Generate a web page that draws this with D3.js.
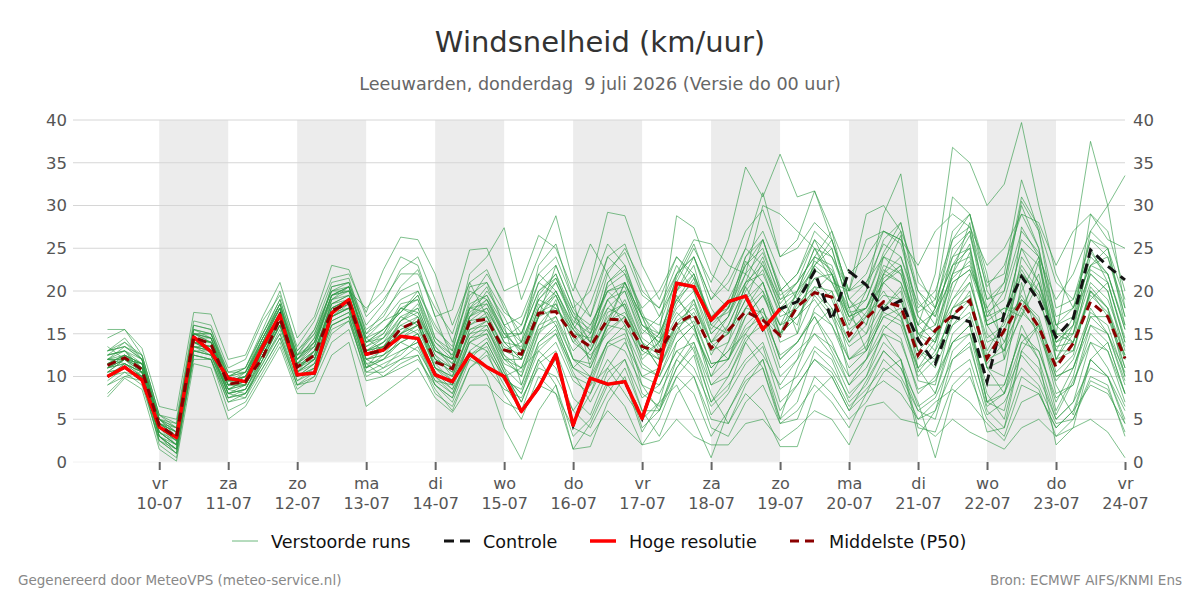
<!DOCTYPE html>
<html><head><meta charset="utf-8">
<script src="https://cdn.jsdelivr.net/npm/d3@7"></script>
<style>
html,body{margin:0;padding:0;background:#fff;}
svg{display:block;font-family:"DejaVu Sans",sans-serif;}
text{white-space:pre;}
</style></head>
<body><svg id="c" width="1200" height="600"></svg>
<script>
// ---- data ----
const title = "Windsnelheid (km/uur)";
const subtitle = "Leeuwarden, donderdag  9 juli 2026 (Versie do 00 uur)";
const firstTime = "2026-07-09T06:00:00Z"; // 6-hourly steps
const dayTicks = ["2026-07-10","2026-07-11","2026-07-12","2026-07-13","2026-07-14","2026-07-15","2026-07-16","2026-07-17","2026-07-18","2026-07-19","2026-07-20","2026-07-21","2026-07-22","2026-07-23","2026-07-24"];
const dayNames = ["vr","za","zo","ma","di","wo","do","vr","za","zo","ma","di","wo","do","vr"];
const dayDates = ["10-07","11-07","12-07","13-07","14-07","15-07","16-07","17-07","18-07","19-07","20-07","21-07","22-07","23-07","24-07"];
const yTicks = [0,5,10,15,20,25,30,35,40];

const hres = [10.0,11.1,9.6,4.1,2.85,14.6,12.9,9.8,9.4,13.5,17.2,10.2,10.4,17.4,19.0,
  12.6,13.1,14.7,14.45,10.2, 9.4,12.6,11.1,10.0, 5.9,8.7,12.6,4.3, 9.8,9.1,9.4,5.1,
  11.0,20.9,20.5,16.6, 18.75,19.4,15.5,17.9];
const controle = [10.0,11.1,9.6,4.1,2.85,14.6,12.9,9.8,9.4,13.5,17.2,10.2,10.4,17.4,19.0,
  12.6,13.1,14.7,14.45,10.2, 9.4,12.6,11.1,10.0, 5.9,8.7,12.6,4.3, 9.8,9.1,9.4,5.1,
  11.0,20.9,20.5,16.6, 18.75,19.4,15.5,17.9, 18.75,22.3,16.6,22.3, 20.7,17.8,18.9,14.3,
  11.5,17.0,16.4,9.4, 17.4,21.7,18.9,14.6, 16.8,24.8,22.9,21.3];
const p50 = [11.3,12.2,10.8,4.3,2.9,14.6,13.8,9.1,9.4,12.2,16.8,11.1,12.5,17.7,18.6,
  12.6,13.1,15.6,16.5,11.7, 10.9,16.4,16.7,13.1, 12.6,17.4,17.6,14.8, 13.5,16.7,16.6,13.5,
  12.9,16.2,17.3,13.3, 15.4,17.6,16.6,14.8, 18.2,19.8,19.3,14.8, 16.8,18.75,18.2,12.5,
  15.4,17.2,18.9,12.1, 15.4,18.75,15.8,11.1, 13.9,18.75,17.0,12.1];

const m01=[12.0,13.5,12.0,3.5,2.0,15.0,14.0,8.5,9.0,14.0,18.5,11.5,12.0,19.0,20.5, 13.0,14.0,17.0,16.0,12.0, 10.5,18.0,17.5,13.0, 14.0,19.0,18.0,15.0, 12.0,17.5,18.5,14.0, 11.0,15.0,19.0,12.5, 16.0,20.5,17.0,14.5, 19.0,21.5,22.0,15.0, 17.5,21.0,19.0,12.0, 14.5,19.0,22.0,13.0, 16.5,19.0,17.0,10.5, 12.5,20.5,18.0,11.0];
const m02=[10.5,11.0,10.0,4.5,3.5,14.0,13.5,9.5,10.0,12.5,16.5,10.5,13.0,17.5,18.5, 12.0,12.5,15.0,17.0,11.0, 9.5,15.5,16.0,12.0, 10.0,16.0,17.0,13.0, 15.0,19.0,16.0,12.5, 14.0,17.5,15.5,11.0, 13.0,17.0,19.5,16.0, 18.0,20.0,17.5,13.5, 15.0,18.5,17.0,10.5, 13.0,17.0,19.0,11.5, 14.0,18.0,15.0,9.5, 12.0,17.5,16.0,10.0];
const m03=[14.5,15.5,12.5,5.5,4.5,16.0,15.5,10.5,11.0,15.5,20.0,13.0,15.5,21.0,21.5, 15.0,17.5,20.0,21.0,14.5, 13.0,20.5,21.0,17.5, 16.0,22.0,24.0,19.0, 17.0,22.5,24.5,19.5, 18.0,22.0,24.0,19.0, 22.0,27.0,29.5,24.0, 25.0,28.0,26.0,20.0, 22.0,27.0,25.5,18.0, 20.0,26.0,27.5,20.5, 23.0,29.0,25.0,16.0, 18.0,26.0,24.0,17.0];
const m04=[9.0,10.5,9.0,2.5,1.0,13.0,12.5,7.5,8.0,11.5,15.5,9.5,10.5,16.0,17.0, 10.0,11.0,13.0,14.0,9.0, 7.5,13.0,14.5,10.5, 7.0,12.0,14.0,9.5, 8.0,13.5,14.5,8.0, 6.5,11.0,13.5,7.0, 9.0,12.0,14.0,8.5, 10.0,13.5,12.0,7.0, 9.0,13.0,11.0,6.0, 7.5,12.0,13.5,6.5, 8.0,12.5,10.0,5.0, 7.0,11.0,10.0,4.5];
const m05=[13.5,12.0,11.5,4.0,2.5,14.5,14.5,9.0,9.5,13.5,17.5,12.0,14.5,19.5,20.0, 14.5,13.0,16.5,18.5,13.5, 11.0,17.0,19.0,15.5, 12.5,18.0,21.0,17.0, 14.0,21.0,23.0,17.5, 13.5,18.5,21.5,15.0, 17.0,22.0,24.5,19.5, 21.0,24.0,23.0,17.0, 19.0,24.5,28.0,20.0, 17.0,24.0,27.0,19.0, 21.0,31.0,27.5,21.0, 19.0,24.5,22.0,15.5];
const m06=[8.0,10.0,10.5,3.0,1.5,12.0,12.0,7.0,8.0,11.0,14.5,9.0,9.5,14.0,15.5, 9.5,10.0,11.5,12.5,8.0, 6.5,11.0,12.5,9.0, 6.0,11.5,13.0,7.5, 5.5,10.5,12.0,6.0, 6.0,10.0,12.5,5.5, 8.0,11.5,13.5,7.0, 9.0,12.0,10.5,6.5, 8.5,11.0,9.5,5.0, 6.0,10.5,12.0,5.5, 7.0,11.0,9.0,4.5, 5.0,9.5,8.5,3.5];
const m07=[11.0,12.5,11.5,5.0,3.0,15.5,14.5,9.5,10.5,14.5,18.0,12.5,15.0,20.0,21.0, 16.0,18.5,22.5,24.0,19.0, 14.0,19.5,21.0,16.0, 9.0,15.0,19.0,12.0, 10.0,16.5,21.0,17.0, 12.0,20.0,23.0,16.0, 18.0,24.0,27.0,22.0, 19.0,23.0,25.0,18.0, 13.0,22.0,26.5,17.0, 15.0,22.0,28.0,18.0, 14.0,20.0,24.0,14.0, 16.0,29.0,27.0,20.0];
const m08=[12.5,13.0,10.5,3.0,1.5,13.5,13.0,8.0,7.5,12.0,16.0,10.0,11.0,16.5,17.5, 11.5,12.0,14.0,13.0,9.5, 9.0,14.5,15.0,11.0, 6.0,9.0,12.0,4.5, 8.0,12.0,9.5,3.5, 7.0,14.0,16.0,9.0, 11.0,15.0,18.0,12.0, 14.0,17.0,13.0,9.0, 12.0,16.0,14.5,8.0, 10.0,14.0,16.0,7.0, 9.0,15.0,12.0,5.5, 9.5,14.0,11.0,6.5];
const m09=[13.0,14.0,12.5,5.5,5.0,16.5,16.0,11.0,12.0,16.5,19.5,13.5,16.5,21.5,22.0, 17.5,22.5,26.3,26.0,22.0, 16.0,21.0,17.0,12.0, 11.0,16.0,18.5,14.0, 16.0,20.0,18.0,13.0, 15.0,19.0,17.0,11.5, 12.0,18.0,21.0,15.0, 17.0,20.5,18.0,14.0, 16.0,21.5,23.0,14.5, 18.0,23.0,24.0,16.0, 13.0,17.0,23.5,12.0, 15.0,25.0,21.0,14.0];
const m10=[10.0,11.5,10.0,2.0,0.5,12.5,12.0,6.0,7.0,10.5,14.0,8.5,10.0,15.0,16.5, 10.5,11.5,12.5,14.5,10.0, 8.0,13.0,10.0,4.0, 0.3,6.0,9.0,3.0, 5.0,9.5,12.0,7.5, 9.0,13.0,11.0,6.5, 8.5,14.0,17.0,11.0, 13.0,15.0,12.5,8.0, 10.0,15.5,17.5,9.5, 9.0,17.0,20.0,11.0, 8.0,14.0,13.0,7.0, 11.0,17.0,15.0,9.0];
const m11=[11.5,12.0,11.5,4.5,4.0,15.0,15.0,10.0,11.0,15.0,18.5,12.0,14.0,20.5,21.0, 15.0,16.5,19.0,20.0,15.5, 13.5,22.0,24.0,27.4, 19.0,24.0,28.8,21.0, 17.0,24.0,22.0,18.0, 20.0,24.0,21.5,17.0, 19.0,23.0,26.0,20.0, 22.0,26.0,24.0,19.0, 21.0,25.5,24.0,17.5, 19.0,24.0,25.0,17.0, 18.0,18.0,22.0,13.0, 17.0,22.0,20.0,13.0];
const m12=[12.0,12.5,11.0,4.0,3.0,14.0,13.5,9.0,9.0,13.0,17.5,11.0,12.5,18.5,19.5, 13.5,15.0,18.0,19.0,13.0, 11.5,17.0,18.0,14.0, 12.0,17.0,20.0,16.0, 13.0,18.0,20.0,15.0, 17.0,21.0,25.0,21.0, 26.0,34.5,31.0,36.0, 31.0,31.7,27.0,22.0, 24.0,27.0,26.0,20.0, 18.0,23.0,26.5,19.0, 20.0,27.0,24.5,17.0, 18.0,23.0,22.0,15.5];
const m13=[9.5,11.0,10.0,3.0,1.0,13.5,12.5,8.0,8.5,12.0,15.0,9.5,11.0,17.0,18.0, 12.0,11.0,12.0,12.5,8.5, 6.0,11.0,13.0,8.0, 5.0,10.0,8.0,1.5, 4.5,9.0,6.5,2.0, 5.0,10.0,8.0,3.0, 6.0,9.5,11.0,4.5, 5.0,10.0,8.0,5.0, 7.0,10.5,12.0,4.0, 3.5,9.0,11.0,3.5, 4.0,10.0,8.5,3.0, 5.0,10.0,9.0,3.0];
const m14=[11.0,12.0,11.0,4.5,3.5,14.5,14.0,9.5,9.5,13.5,17.0,11.5,14.0,19.0,19.5, 12.5,13.5,15.5,16.5,12.0, 11.0,16.0,17.5,14.5, 15.0,21.0,23.0,18.0, 20.0,25.5,23.0,17.0, 16.0,21.5,25.5,20.0, 18.0,22.0,20.0,16.0, 20.0,23.5,22.0,16.0, 20.0,29.0,33.7,21.0, 19.0,31.0,29.0,21.0, 22.0,33.0,27.0,18.0, 19.0,26.0,25.0,17.0];
const m15=[12.0,11.5,10.5,4.0,2.0,14.0,13.5,9.0,10.0,14.0,18.0,11.0,13.0,18.0,19.0, 13.0,14.5,16.5,18.0,13.0, 12.0,17.5,19.0,15.0, 13.0,18.5,16.0,11.0, 13.0,17.0,18.5,13.0, 12.0,16.5,18.0,14.0, 15.0,19.0,21.0,16.0, 17.0,20.0,22.0,18.0, 19.0,24.0,22.0,16.0, 22.0,36.8,35.0,30.0, 32.5,39.7,30.0,22.0, 18.0,23.0,24.0,18.0];
const m16=[10.5,12.0,10.5,3.5,2.5,13.5,13.0,8.5,9.0,13.0,17.0,10.5,12.0,17.0,18.0, 12.5,13.5,15.0,16.0,11.0, 10.0,15.5,16.5,12.5, 11.0,17.0,19.5,14.5, 12.0,16.0,19.0,14.0, 11.0,15.5,17.5,13.0, 14.0,18.0,20.0,14.0, 15.0,19.5,17.0,12.0, 14.0,18.0,20.5,13.0, 12.0,18.0,21.0,14.0, 15.0,22.0,20.0,15.0, 25.0,37.5,30.0,18.0];
const m17=[13.0,14.5,12.0,5.0,4.0,15.5,15.0,10.0,10.5,14.0,18.0,12.5,15.5,20.0,20.5, 14.0,15.5,17.5,19.5,14.5, 12.5,18.0,19.5,16.0, 14.0,19.0,21.5,17.0, 15.5,20.5,22.0,16.0, 14.5,19.0,21.0,15.5, 18.0,23.0,25.0,19.0, 20.0,22.5,21.0,17.0, 18.0,22.0,24.0,18.5, 17.0,22.0,23.0,17.5, 19.0,26.0,24.0,19.0, 22.0,27.0,30.0,33.5];
const m18=[11.0,11.5,10.0,3.0,1.5,13.0,12.5,8.5,8.0,12.0,16.0,10.0,11.5,17.0,18.5, 11.0,12.5,14.0,15.0,10.5, 8.5,12.0,14.0,10.0, 8.0,13.0,15.0,10.0, 9.0,11.0,8.0,5.0, 7.0,9.0,5.0,0.5, 6.0,10.0,12.0,6.0, 9.0,12.0,10.0,6.0, 9.5,13.0,11.0,7.0, 0.5,8.0,10.0,5.0, 3.0,9.0,8.0,4.0, 6.0,12.0,10.0,6.0];
const m19=[12.5,13.0,12.0,5.0,3.5,15.0,14.5,9.5,10.0,14.0,17.5,11.5,13.5,19.0,20.0, 14.0,15.5,18.0,17.0,13.5, 11.5,17.0,18.5,14.0, 12.0,18.0,20.0,15.5, 13.5,19.0,21.0,16.0, 14.0,18.0,20.0,15.0, 17.0,21.0,23.0,18.0, 20.0,25.0,24.0,20.0, 29.0,30.0,27.0,22.0, 18.0,26.0,29.0,20.0, 17.0,25.0,23.0,16.0, 14.0,19.0,21.0,14.0];
const m20=[10.0,11.0,9.5,2.5,1.0,12.5,12.0,7.5,8.5,12.5,16.5,10.0,11.5,16.0,17.0, 11.0,12.0,14.5,15.5,11.0, 9.0,14.0,15.0,10.5, 7.0,12.0,9.0,1.5, 1.8,7.0,10.0,4.0, 6.0,11.0,14.0,8.0, 4.5,9.0,12.0,5.0, 7.0,13.0,11.0,7.5, 10.0,14.0,12.0,6.5, 8.0,15.0,17.0,7.0, 6.0,14.0,16.0,8.0, 9.0,16.0,14.0,8.0];
const m21=[11.5,12.5,11.5,4.5,3.0,14.5,14.0,9.5,9.5,13.5,17.5,11.5,13.0,18.5,19.5, 13.5,14.5,17.0,18.0,13.0, 12.0,18.0,20.5,16.0, 17.0,22.0,20.0,16.0, 21.0,29.2,28.8,23.0, 19.0,24.0,22.0,16.0, 15.0,20.0,22.5,17.0, 18.0,21.5,19.0,14.0, 17.0,22.0,21.0,15.0, 16.0,21.0,22.5,16.5, 18.0,17.0,21.0,15.0, 15.0,21.0,19.0,13.5];
const m22=[12.0,12.0,11.0,4.5,3.5,14.0,14.0,9.0,10.0,13.0,16.5,11.0,13.0,18.0,19.0, 13.0,13.5,15.0,16.5,12.0, 11.0,16.0,17.0,13.5, 12.5,18.0,19.5,15.0, 14.5,18.0,17.0,13.0, 15.0,28.8,27.4,22.0, 20.0,25.0,23.0,19.0, 21.0,24.0,22.5,17.5, 18.0,22.5,21.0,16.0, 14.0,20.0,24.5,16.0, 17.0,22.5,19.0,13.5, 14.0,20.0,18.0,12.5];
const m23=[10.5,11.0,10.0,3.5,2.0,13.0,13.0,8.0,9.0,12.5,16.0,10.5,12.0,17.5,18.0, 12.0,13.0,15.0,16.0,11.5, 9.5,14.5,16.0,11.0, 9.0,14.0,16.0,11.0, 10.0,14.0,16.0,9.0, 8.0,12.0,10.0,5.0, 4.5,8.0,6.0,1.8, 1.8,8.0,10.0,6.0, 8.0,12.0,10.0,6.0, 5.0,12.0,14.0,6.0, 4.0,13.0,11.0,5.0, 7.0,14.0,13.0,7.0];
const m24=[13.0,13.5,12.0,4.5,3.0,14.5,14.0,9.5,10.0,14.5,18.0,12.0,14.0,19.5,20.5, 14.0,15.0,18.5,19.0,14.0, 12.0,18.5,19.5,15.0, 13.0,19.5,22.0,16.0, 14.0,21.0,22.5,17.0, 15.0,20.0,22.0,17.0, 18.0,24.0,26.0,20.0, 22.0,27.0,25.0,18.0, 20.0,26.0,28.0,19.0, 16.0,25.0,27.0,17.0, 20.0,30.5,27.0,16.0, 17.0,27.0,25.0,16.0];
const m25=[11.0,12.0,10.5,4.0,2.5,14.0,13.0,8.5,9.5,13.0,17.0,11.0,12.5,18.0,19.0, 12.5,13.0,14.5,16.0,11.0, 10.0,15.0,16.5,12.5, 10.0,15.0,17.0,12.0, 11.0,15.5,17.0,11.5, 10.0,14.0,16.0,10.0, 12.0,16.0,18.0,12.0, 14.0,17.0,14.0,9.0, 11.0,15.0,12.0,3.0, 6.0,13.0,15.0,7.0, 8.0,16.0,12.0,2.0, 4.0,12.0,10.0,5.0];
const m26=[15.5,15.5,13.3,6.5,6.0,17.5,17.3,12.0,12.5,17.0,21.0,14.5,17.0,23.0,22.5, 17.0,19.0,22.0,22.0,18.0, 15.0,21.0,22.5,18.0, 15.0,20.0,21.5,17.5, 14.0,19.0,20.0,14.5, 13.0,17.0,19.0,14.0, 16.0,20.5,24.0,18.5, 21.0,26.0,22.0,17.0, 18.0,23.0,22.0,15.0, 14.0,19.0,21.0,14.5, 16.0,22.0,19.5,12.0, 13.0,20.0,17.0,11.0];
const m27=[7.6,9.8,8.5,1.5,0.1,11.5,11.0,5.0,6.5,10.0,13.5,8.0,8.0,12.5,14.0, 6.5,8.0,9.5,11.0,7.5, 5.8,9.0,9.0,7.0, 6.0,9.0,8.0,4.0, 3.0,6.0,4.0,2.0, 2.5,5.0,3.0,2.0, 2.0,4.5,5.0,2.5, 4.0,6.0,5.0,2.0, 6.5,7.0,5.0,4.5, 3.0,5.0,3.5,2.5, 1.5,4.0,5.0,3.0, 4.0,5.0,3.5,0.5];
const m28=[12.0,13.0,11.5,5.0,4.0,15.0,14.5,10.0,11.0,15.0,19.0,13.0,15.0,20.0,20.0, 18.0,20.0,24.0,23.0,17.0, 17.8,24.8,25.0,20.0, 21.0,26.5,25.0,20.0, 25.5,22.0,25.0,21.0, 17.0,22.0,26.0,25.5, 23.0,22.0,30.0,29.0, 27.0,25.0,21.0,20.0, 26.0,27.0,26.0,23.0, 27.0,29.0,27.5,23.0, 25.0,29.0,28.0,23.0, 27.0,29.0,26.0,25.0];
const m29=[10.0,11.5,10.5,3.0,2.0,13.5,13.0,8.0,8.5,12.5,16.5,10.5,11.5,16.5,17.5, 11.5,10.0,11.0,12.0,9.0, 7.0,12.0,11.0,8.5, 7.5,11.0,10.0,6.0, 4.0,8.0,11.0,6.0, 3.0,8.0,10.0,4.0, 3.0,7.0,9.0,4.5, 6.0,9.0,7.0,4.0, 8.0,9.5,8.0,5.0, 7.0,8.5,7.0,4.5, 2.5,7.0,8.0,4.0, 6.0,9.0,8.0,4.5];
const m30=[11.5,12.5,11.0,4.0,2.5,14.5,14.0,9.0,9.5,13.5,17.0,11.0,12.5,18.0,19.0, 13.0,14.0,16.0,17.0,12.5, 11.0,16.5,18.0,14.0, 13.5,19.0,21.0,16.5, 15.0,20.0,21.0,16.0, 15.0,20.0,24.0,19.0, 21.0,25.0,31.5,24.0, 26.0,31.7,26.0,20.0, 21.0,24.0,23.0,17.0, 15.0,23.0,25.0,16.0, 17.0,25.0,21.0,14.0, 15.0,22.0,20.0,12.0];
const m31=[12.5,13.0,11.0,4.5,3.0,15.0,14.5,9.0,10.5,14.5,18.5,12.5,13.5,19.5,20.5, 15.5,17.0,20.5,22.5,17.0, 12.0,19.0,22.0,18.5, 14.0,23.0,25.5,19.0, 11.0,16.0,21.0,17.0, 13.0,19.5,16.0,10.0, 14.0,21.0,26.0,20.5, 15.0,24.0,27.0,19.0, 16.0,24.0,27.0,14.0, 18.0,27.0,29.0,22.0, 12.0,27.5,24.0,12.0, 16.0,24.0,22.0,16.0];
const m32=[10.5,12.0,11.0,3.5,2.0,14.0,13.0,8.0,8.5,12.0,16.0,10.0,11.0,17.0,18.0, 11.0,13.5,16.0,15.0,10.0, 8.5,14.0,13.0,10.0, 11.0,13.0,11.0,6.0, 9.0,14.0,13.0,9.0, 6.0,12.0,15.0,11.0, 13.0,15.0,12.5,9.0, 12.0,18.0,20.0,12.0, 13.0,17.0,16.0,10.0, 12.0,18.0,19.0,11.0, 10.0,21.0,14.0,6.0, 10.0,18.0,15.0,9.5];
const m33=[11.5,12.5,11.5,5.0,4.5,15.5,15.0,10.5,10.5,14.0,18.0,12.0,14.5,20.5,21.0, 14.5,16.5,17.5,20.0,16.0, 13.0,20.0,19.0,14.5, 16.0,21.0,19.5,15.5, 18.5,24.0,25.5,20.0, 18.0,23.0,20.0,14.0, 17.0,23.5,21.0,15.0, 20.0,25.0,22.0,17.0, 15.0,21.0,23.0,15.0, 13.0,21.0,22.5,18.0, 21.0,30.0,25.0,15.0, 14.0,23.0,25.0,19.0];
const m34=[9.0,10.0,9.5,2.5,1.5,12.5,12.0,7.0,7.5,11.0,14.5,9.0,10.0,15.5,16.5, 10.5,10.5,12.0,13.5,9.0, 7.5,12.5,14.0,10.0, 8.0,14.0,15.5,10.5, 7.0,11.0,14.0,10.0, 11.0,16.0,13.0,7.0, 10.0,14.0,11.0,5.0, 11.0,16.0,18.0,10.0, 12.0,18.0,20.0,11.0, 8.0,14.0,16.0,8.0, 5.0,13.0,16.0,9.0, 5.5,12.0,14.0,8.0];
const m35=[13.0,13.5,12.5,5.5,4.0,16.0,15.5,10.0,10.5,15.0,19.0,12.5,14.0,19.5,20.5, 14.0,14.5,18.0,17.5,12.5, 10.0,17.0,20.0,17.0, 13.0,17.0,23.0,18.0, 15.0,22.0,18.0,12.0, 14.0,22.0,24.0,18.0, 15.0,19.0,23.5,18.0, 16.0,23.0,26.0,19.0, 17.0,20.0,17.0,11.0, 14.0,22.0,25.5,15.0, 13.0,24.0,21.0,13.0, 13.0,20.0,18.0,10.0];
const m36=[11.0,11.5,10.5,4.0,3.0,13.5,13.5,9.0,9.0,13.0,16.5,10.5,12.0,17.5,18.5, 12.5,14.0,15.5,16.5,12.0, 10.5,15.0,15.5,12.0, 12.0,17.5,18.5,14.0, 12.5,15.0,17.0,13.5, 12.0,16.0,18.5,14.0, 12.0,17.0,19.5,15.0, 17.0,19.0,16.0,11.0, 13.0,17.0,18.0,13.0, 11.0,16.0,18.5,12.0, 13.0,19.0,16.5,10.0, 11.0,17.0,17.0,12.0];
const m37=[12.0,12.0,11.5,4.0,2.5,15.0,14.0,9.5,9.0,13.0,17.5,11.5,13.0,18.5,19.0, 13.0,13.5,16.5,17.5,13.0, 12.0,16.5,17.0,13.0, 12.0,17.0,18.0,15.5, 13.0,16.5,17.5,14.0, 12.5,16.0,17.0,13.5, 15.0,18.0,17.5,15.0, 18.5,20.5,20.0,15.5, 17.0,19.5,19.0,13.0, 15.0,18.0,19.5,12.5, 15.5,19.5,16.0,11.5, 14.0,19.5,17.5,12.5];
const m38=[10.0,10.5,10.0,3.0,1.5,13.0,12.5,7.5,8.0,11.5,15.0,9.0,10.5,16.0,17.0, 11.0,12.0,13.0,14.0,9.5, 8.0,12.5,13.5,9.5, 8.5,13.5,15.0,11.0, 9.5,14.0,15.0,10.0, 9.0,13.0,14.0,9.0, 10.0,14.5,16.0,10.0, 12.0,15.0,13.5,10.0, 12.0,15.0,14.0,8.5, 9.5,14.0,15.0,9.0, 9.0,15.0,13.0,7.5, 9.0,15.0,13.0,8.0];
const m39=[12.5,14.0,12.0,5.0,3.5,15.0,15.0,9.5,10.0,14.5,18.5,12.0,13.5,19.5,20.0, 14.5,15.5,17.5,19.5,14.0, 12.5,18.0,18.5,15.0, 15.0,20.0,22.0,17.5, 16.0,20.0,20.5,15.5, 14.0,19.0,22.0,16.5, 17.5,21.0,22.0,17.5, 19.5,23.0,21.0,16.5, 18.0,21.0,22.5,16.0, 17.5,21.5,23.5,16.0, 17.0,23.0,20.0,14.0, 16.0,22.5,21.0,14.5];
const m40=[11.0,12.0,10.0,3.5,2.0,14.0,13.0,8.5,9.5,12.5,16.0,11.0,12.0,17.0,18.0, 12.0,12.5,14.0,15.0,10.5, 9.0,14.0,15.5,11.5, 10.5,15.5,16.5,12.0, 11.5,16.0,15.5,11.0, 10.0,15.0,16.5,11.5, 12.0,15.5,17.0,12.5, 14.0,17.5,16.0,12.0, 13.5,17.5,16.5,11.0, 12.5,16.0,17.5,11.0, 12.0,17.5,15.5,10.0, 11.0,16.0,15.0,10.5];
const members = [m01,m02,m03,m04,m05,m06,m07,m08,m09,m10,m11,m12,m13,m14,m15,m16,m17,m18,m19,m20,
                 m21,m22,m23,m24,m25,m26,m27,m28,m29,m30,m31,m32,m33,m34,m35,m36,m37,m38,m39,m40];

const legendLabels = ["Verstoorde runs","Controle","Hoge resolutie","Middelste (P50)"];

// ---- drawing ----
const svg = d3.select("#c");
const W = 1200, H = 600;
const plot = {left: 73, right: 1125, top: 120, bottom: 462};

const t0 = new Date(firstTime);
const times = d3.range(controle.length).map(i => d3.utcHour.offset(t0, 6*i));
const x = d3.scaleUtc()
  .domain([new Date("2026-07-08T18:00:00Z"), new Date("2026-07-24T00:00:00Z")])
  .range([plot.left, plot.right]);
const y = d3.scaleLinear().domain([0,40]).range([plot.bottom, plot.top]);

svg.append("rect").attr("width",W).attr("height",H).attr("fill","#fff");

// shaded alternate days
const days = dayTicks.map(d => new Date(d+"T00:00:00Z"));
for (let i = 0; i < days.length-1; i += 2) {
  svg.append("rect")
    .attr("x", x(days[i])).attr("y", plot.top)
    .attr("width", x(days[i+1]) - x(days[i]))
    .attr("height", plot.bottom - plot.top)
    .attr("fill", "#ececec");
}

// gridlines
svg.append("g").selectAll("line").data(yTicks).join("line")
  .attr("x1", plot.left).attr("x2", plot.right)
  .attr("y1", d => y(d)).attr("y2", d => y(d))
  .attr("stroke", d => d === 0 ? "#f2f2f2" : "#d6d6d6").attr("stroke-width", 1);

// y axes
const yl = svg.append("g").attr("transform", `translate(${plot.left},0)`)
  .call(d3.axisLeft(y).tickValues(yTicks).tickSize(0).tickPadding(6));
const yr = svg.append("g").attr("transform", `translate(${plot.right},0)`)
  .call(d3.axisRight(y).tickValues(yTicks).tickSize(0).tickPadding(8));
[yl, yr].forEach(g => {
  g.select(".domain").remove();
  g.selectAll("text").attr("font-family","DejaVu Sans").attr("font-size", 16.5).attr("fill", "#555");
});

// x axis
const xa = svg.append("g").attr("transform", `translate(0,${plot.bottom})`)
  .call(d3.axisBottom(x).tickValues(days).tickSize(8).tickFormat(() => ""));
xa.select(".domain").remove();
xa.selectAll(".tick line").attr("stroke", "#666").attr("stroke-width", 2);
xa.selectAll(".tick text").remove();
xa.selectAll(".tick").each(function(d, i) {
  const g = d3.select(this);
  g.append("text").attr("y", 27).attr("text-anchor","middle")
    .attr("font-family","DejaVu Sans").attr("font-size",16).attr("fill","#555").text(dayNames[i]);
  g.append("text").attr("y", 47).attr("text-anchor","middle")
    .attr("font-family","DejaVu Sans").attr("font-size",16).attr("fill","#555").text(dayDates[i]);
});

const line = d3.line().x((d,i) => x(times[i])).y(d => y(d));

// members
svg.append("g").selectAll("path").data(members).join("path")
  .attr("d", line).attr("fill","none")
  .attr("stroke","#2e9a45").attr("stroke-opacity",0.62).attr("stroke-width",1);

// control
svg.append("path").datum(controle).attr("d", line).attr("fill","none")
  .attr("stroke","#141414").attr("stroke-width",3).attr("stroke-dasharray","10,6");
// hres
svg.append("path").datum(hres).attr("d", line).attr("fill","none")
  .attr("stroke","#ff0000").attr("stroke-width",3.5).attr("stroke-linejoin","round");
// p50
svg.append("path").datum(p50).attr("d", line).attr("fill","none")
  .attr("stroke","#8b0000").attr("stroke-width",3).attr("stroke-dasharray","9,6");

// title
svg.append("text").attr("x",600).attr("y",52).attr("text-anchor","middle")
  .attr("font-size",29).attr("fill","#333").text(title);
svg.append("text").attr("x",600).attr("y",90).attr("text-anchor","middle")
  .attr("font-size",17.6).attr("fill","#666").attr("xml:space","preserve").text(subtitle);

// legend
const legendItems = [
  {x:232, stroke:"#2e9a45", w:1, dash:null, op:0.7},
  {x:444, stroke:"#141414", w:3, dash:"10,6", op:1},
  {x:590, stroke:"#ff0000", w:3.5, dash:null, op:1},
  {x:790, stroke:"#8b0000", w:3, dash:"9,6", op:1}
];
const lg = svg.append("g");
legendItems.forEach((it, i) => {
  lg.append("line").attr("x1", it.x).attr("x2", it.x+26).attr("y1",541).attr("y2",541)
    .attr("stroke", it.stroke).attr("stroke-width", it.w).attr("stroke-opacity", it.op)
    .attr("stroke-dasharray", it.dash);
  lg.append("text").attr("x", it.x+39).attr("y", 547.5).attr("font-size",17.6).attr("fill","#111")
    .text(legendLabels[i]);
});

// footer
svg.append("text").attr("x",18).attr("y",585).attr("font-size",13.5).attr("fill","#888")
  .text("Gegenereerd door MeteoVPS (meteo-service.nl)");
svg.append("text").attr("x",1182).attr("y",585).attr("text-anchor","end").attr("font-size",13.5).attr("fill","#888")
  .text("Bron: ECMWF AIFS/KNMI Ens");
</script></body></html>
